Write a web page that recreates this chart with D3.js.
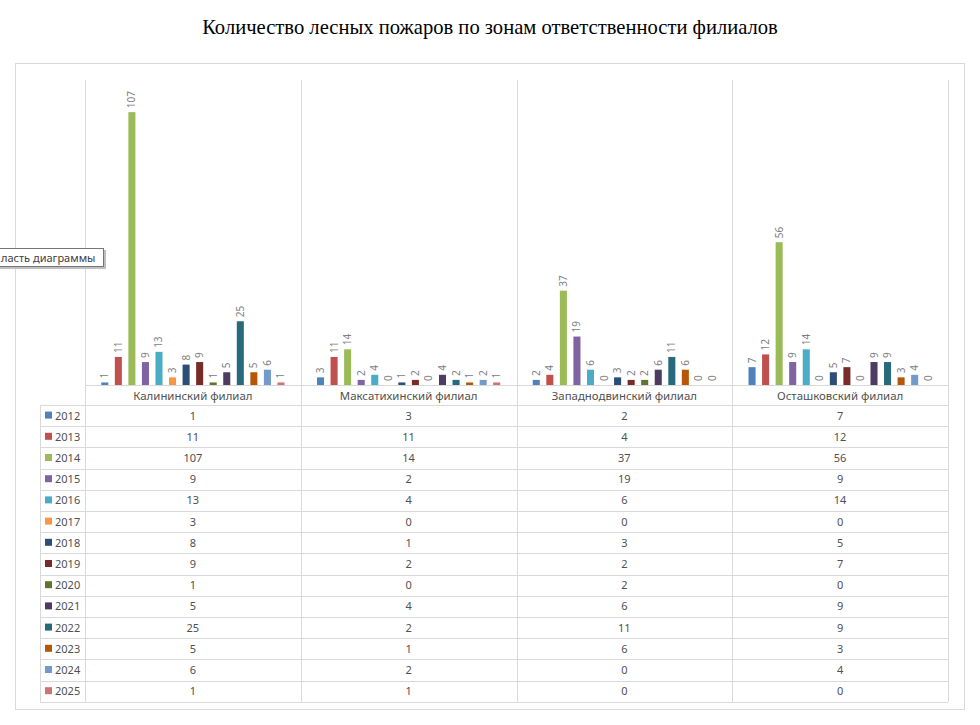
<!DOCTYPE html>
<html>
<head>
<meta charset="utf-8">
<script src="https://cdn.jsdelivr.net/npm/d3@7"></script>
<style>
  body { margin: 0; background: #fff; }
  svg { display: block; }
</style>
</head>
<body>
<svg id="container" width="980" height="725"></svg>
<script>
const branches = ['Калининский филиал', 'Максатихинский филиал', 'Западнодвинский филиал', 'Осташковский филиал'];
const years = ['2012','2013','2014','2015','2016','2017','2018','2019','2020','2021','2022','2023','2024','2025'];
const colors = ['#4F81BD','#C0504D','#9BBB59','#8064A2','#4BACC6','#F79646','#2C4D75','#772C2A','#5F7530','#4D3B62','#276A7C','#B65708','#729ACA','#CD7371'];
// values per year, in branch order
const kalinin  = [1, 11, 107, 9, 13, 3, 8, 9, 1, 5, 25, 5, 6, 1];
const maksat   = [3, 11, 14, 2, 4, 0, 1, 2, 0, 4, 2, 1, 2, 1];
const zapdvin  = [2, 4, 37, 19, 6, 0, 3, 2, 2, 6, 11, 6, 0, 0];
const ostash   = [7, 12, 56, 9, 14, 0, 5, 7, 0, 9, 9, 3, 4, 0];
const yMax = 120;

const series = [kalinin, maksat, zapdvin, ostash];

const svg = d3.select('#container');
const font = '"Noto Sans", "Liberation Sans", sans-serif';
const grey = '#d9d9d9';
const textCol = '#505050';

const plotLeft = 85, plotRight = 948, base = 385, plotTop = 79;
const rowH = 21.2, tableTop = 405, legendLeft = 40;

// title
svg.append('text')
    .attr('x', 490).attr('y', 34)
    .attr('text-anchor', 'middle')
    .attr('font-family', '"Liberation Serif", "Times New Roman", serif')
    .attr('font-size', 20.6)
    .attr('fill', '#000')
    .text('Количество лесных пожаров по зонам ответственности филиалов');

// chart area border
svg.append('rect')
    .attr('x', 15.5).attr('y', 63.5)
    .attr('width', 949).attr('height', 646)
    .attr('fill', 'none').attr('stroke', grey);

const x0 = d3.scaleBand().domain(branches).range([plotLeft, plotRight]);
const x1 = d3.scaleBand().domain(years).range([0, x0.bandwidth()]).paddingInner(0.48).paddingOuter(1.2);
const y = d3.scaleLinear().domain([0, yMax]).range([base, plotTop]);

const tableBottom = tableTop + rowH * years.length;

// vertical grid / table column lines
const colEdges = branches.map(b => x0(b)).concat([plotRight]);
svg.selectAll('line.col')
    .data(colEdges)
    .enter()
    .append('line')
    .attr('class', 'col')
    .attr('x1', d => Math.round(d) + 0.5).attr('x2', d => Math.round(d) + 0.5)
    .attr('y1', plotTop + 1).attr('y2', tableBottom)
    .attr('stroke', grey);

// legend column left edge
svg.append('line')
    .attr('x1', legendLeft + 0.5).attr('x2', legendLeft + 0.5)
    .attr('y1', tableTop).attr('y2', tableBottom)
    .attr('stroke', grey);

// axis line + table row lines
svg.append('line')
    .attr('x1', plotLeft).attr('x2', plotRight)
    .attr('y1', base + 0.5).attr('y2', base + 0.5)
    .attr('stroke', grey);

svg.selectAll('line.row')
    .data(d3.range(years.length + 1))
    .enter()
    .append('line')
    .attr('class', 'row')
    .attr('x1', legendLeft).attr('x2', plotRight)
    .attr('y1', i => Math.round(tableTop + i * rowH) + 0.5)
    .attr('y2', i => Math.round(tableTop + i * rowH) + 0.5)
    .attr('stroke', grey);

// bars
const groups = svg.selectAll('g.branch')
    .data(branches)
    .enter()
    .append('g')
    .attr('transform', b => `translate(${x0(b)},0)`);

groups.selectAll('rect')
    .data((b, i) => series[i].map((v, j) => ({ v, year: years[j], c: colors[j] })))
    .enter()
    .append('rect')
    .attr('x', d => x1(d.year))
    .attr('y', d => y(d.v))
    .attr('width', x1.bandwidth())
    .attr('height', d => base - y(d.v))
    .attr('fill', d => d.c);

groups.selectAll('text')
    .data((b, i) => series[i].map((v, j) => ({ v, year: years[j] })))
    .enter()
    .append('text')
    .attr('transform', d => `translate(${x1(d.year) + x1.bandwidth() / 2 + 3.5},${y(d.v) - 4}) rotate(-90)`)
    .attr('font-family', font)
    .attr('font-size', 10)
    .attr('fill', '#808080')
    .text(d => d.v);

// category labels
svg.selectAll('text.cat')
    .data(branches)
    .enter()
    .append('text')
    .attr('class', 'cat')
    .attr('x', b => x0(b) + x0.bandwidth() / 2)
    .attr('y', base + 14.5)
    .attr('text-anchor', 'middle')
    .attr('font-family', font)
    .attr('font-size', 11.4)
    .attr('fill', textCol)
    .text(b => b);

// legend column
const rows = svg.selectAll('g.yr')
    .data(years)
    .enter()
    .append('g')
    .attr('transform', (d, i) => `translate(0,${tableTop + i * rowH + rowH / 2})`);

rows.append('rect')
    .attr('x', 45).attr('y', -4)
    .attr('width', 7).attr('height', 7)
    .attr('fill', (d, i) => colors[i]);

rows.append('text')
    .attr('x', 55).attr('y', 4)
    .attr('font-family', font)
    .attr('font-size', 11)
    .attr('fill', textCol)
    .text(d => d);

// table values
branches.forEach((b, bi) => {
    rows.append('text')
        .attr('x', x0(b) + x0.bandwidth() / 2)
        .attr('y', 4)
        .attr('text-anchor', 'middle')
        .attr('font-family', font)
        .attr('font-size', 11)
        .attr('fill', textCol)
        .text((d, i) => series[bi][i]);
});

// hover tooltip left from Excel (its start is off the left edge)
const tip = svg.append('g').attr('transform', 'translate(0,248)');
tip.append('rect')
    .attr('x', -10).attr('y', 2)
    .attr('width', 116).attr('height', 19)
    .attr('fill', '#bfbfbf');
tip.append('rect')
    .attr('x', -10).attr('y', 0.5)
    .attr('width', 113.5).attr('height', 18)
    .attr('fill', '#fff').attr('stroke', '#767676');
tip.append('text')
    .attr('x', 1).attr('y', 13.5)
    .attr('font-family', font)
    .attr('font-size', 11)
    .attr('fill', '#404040')
    .text('ласть диаграммы');
</script>
</body>
</html>
